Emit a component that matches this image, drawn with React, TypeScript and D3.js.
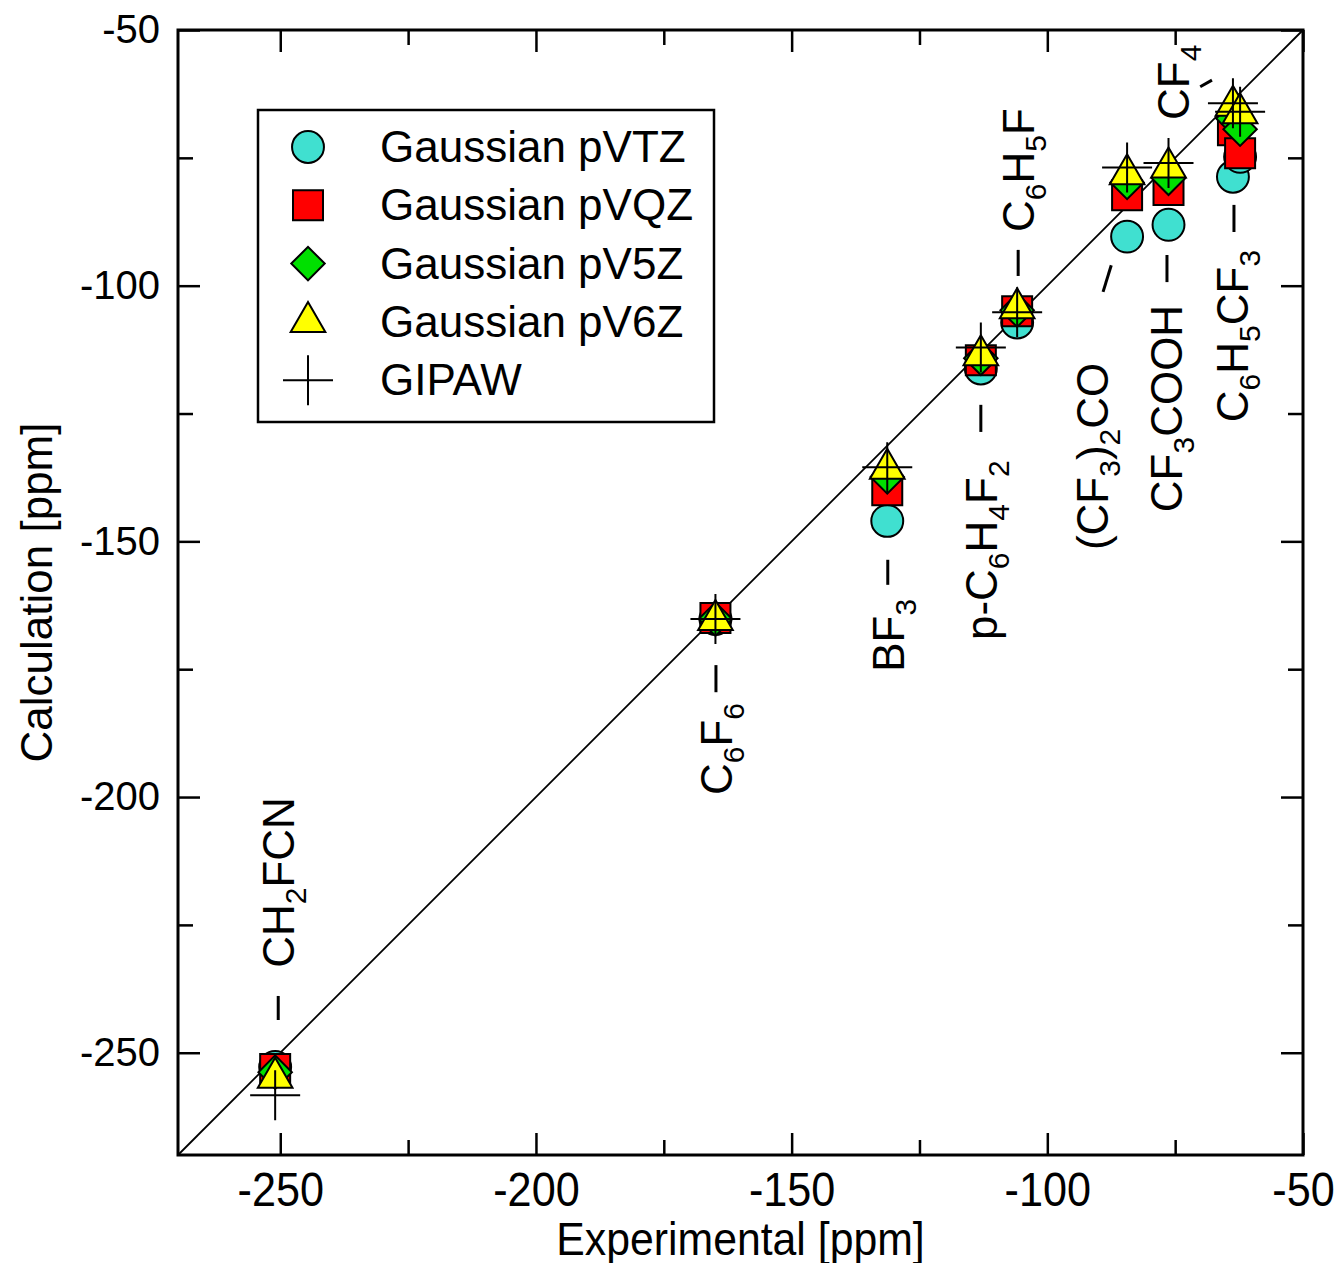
import { useEffect, useMemo, useRef } from "react";
import * as d3 from "d3";

const WIDTH = 1339;
const HEIGHT = 1263;
const MARGIN = { top: 30, right: 36, bottom: 108, left: 178 };
const FONT = "'Liberation Sans', Arial, Helvetica, sans-serif";

// 19F shifts [ppm]
const compounds = ["CH2FCN", "C6F6", "BF3", "p-C6H4F2", "C6H5F", "(CF3)2CO", "CF3COOH", "C6H5CF3", "CF4"];
const experimental = [-251.0, -164.9, -131.3, -113.0, -105.9, -84.4, -76.3, -63.7, -62.3];
const pVTZ = [-252.8, -165.2, -146.0, -116.2, -107.2, -90.4, -88.1, -78.7, -74.8];
const pVQZ = [-253.2, -165.0, -140.0, -114.6, -105.0, -82.3, -81.3, -69.6, -74.1];
const pV5Z = [-253.8, -165.2, -137.4, -114.2, -104.8, -79.8, -79.0, -67.3, -69.4];
const pV6Z = [-254.9, -165.4, -135.8, -113.6, -104.4, -78.2, -76.9, -64.8, -66.3];
const GIPAW = [-258.3, -165.2, -135.5, -112.1, -105.2, -76.9, -76.0, -64.3, -66.0];

const majorTicks = [-250, -200, -150, -100, -50];
const minorTicks = [-225, -175, -125, -75];
const legendNames = ["Gaussian pVTZ", "Gaussian pVQZ", "Gaussian pV5Z", "Gaussian pV6Z", "GIPAW"];

// label text pieces: [text, isSubscript]
const labelParts: [string, boolean][][] = [
  [["CH", false], ["2", true], ["FCN", false]],
  [["C", false], ["6", true], ["F", false], ["6", true]],
  [["BF", false], ["3", true]],
  [["p-C", false], ["6", true], ["H", false], ["4", true], ["F", false], ["2", true]],
  [["C", false], ["6", true], ["H", false], ["5", true], ["F", false]],
  [["(CF", false], ["3", true], [")", false], ["2", true], ["CO", false]],
  [["CF", false], ["3", true], ["COOH", false]],
  [["C", false], ["6", true], ["H", false], ["5", true], ["CF", false], ["3", true]],
  [["CF", false], ["4", true]],
];
// label anchor (column centre x, lower end y) in data units
const labelX = [-250.4, -164.8, -131.2, -112.9, -105.7, -91.3, -76.8, -63.9, -75.4];
const labelY = [-233.4, -199.6, -175.5, -169.3, -89.5, -151.7, -144.3, -126.7, -67.6];
// leader dashes in data units
const dashX1 = [-250.4, -164.8, -131.2, -113.0, -105.7, -89.1, -76.6, -63.5, -70.1];
const dashY1 = [-238.9, -174.2, -153.6, -123.3, -93.0, -101.2, -94.0, -84.2, -61.1];
const dashX2 = [-250.4, -164.8, -131.2, -113.0, -105.7, -87.5, -76.6, -63.5, -67.8];
const dashY2 = [-243.6, -179.5, -158.5, -128.6, -98.1, -96.0, -99.3, -89.5, -59.8];

const COLORS = { circle: "#40e0d0", square: "#ff0000", diamond: "#00e000", triangle: "#ffff00" };

const circlePath = d3.symbol().type(d3.symbolCircle).size(800)() as string;
const squarePath = d3.symbol().type(d3.symbolSquare).size(900)() as string;
const diamondPath = d3.symbol().type(d3.symbolSquare).size(560)() as string;
const trianglePath = d3.symbol().type(d3.symbolTriangle).size(520)() as string;
const PLUS = 25;
const plusPath = `M${-PLUS},0H${PLUS}M0,${-PLUS}V${PLUS}`;

const Marker = ({ kind, x, y }: { kind: string; x: number; y: number }) => {
  if (kind === "plus") {
    return <path d={plusPath} transform={`translate(${x},${y})`} stroke="#000" strokeWidth={2} fill="none" />;
  }
  const d = kind === "circle" ? circlePath : kind === "square" ? squarePath : kind === "diamond" ? diamondPath : trianglePath;
  const rot = kind === "diamond" ? " rotate(45)" : "";
  return (
    <path
      d={d}
      transform={`translate(${x},${y})${rot}`}
      fill={(COLORS as any)[kind]}
      stroke="#000"
      strokeWidth={2}
    />
  );
};

const series = [
  { kind: "circle", values: pVTZ },
  { kind: "square", values: pVQZ },
  { kind: "diamond", values: pV5Z },
  { kind: "triangle", values: pV6Z },
  { kind: "plus", values: GIPAW },
];

const App = () => {
  const axesRef = useRef<SVGGElement>(null);
  const boundsWidth = WIDTH - MARGIN.left - MARGIN.right;
  const boundsHeight = HEIGHT - MARGIN.top - MARGIN.bottom;

  const xScale = useMemo(() => d3.scaleLinear().domain([-270, -50]).range([0, boundsWidth]), [boundsWidth]);
  const yScale = useMemo(() => d3.scaleLinear().domain([-270, -50]).range([boundsHeight, 0]), [boundsHeight]);

  // axes drawn by d3, ticks pointing inwards on all four sides
  useEffect(() => {
    const svgElement = d3.select(axesRef.current);
    svgElement.selectAll("*").remove();
    const fmt = (d: any) => String(d);
    const blank = () => "";

    const addAxis = (axis: any, transform: string, labelled: boolean) => {
      const g = svgElement.append("g").attr("transform", transform).call(axis);
      g.select(".domain").remove();
      g.selectAll("line").attr("stroke", "#000").attr("stroke-width", 2.5);
      g.attr("font-family", FONT);
      if (!labelled) g.selectAll("text").remove();
      return g;
    };

    // bottom
    const xb = addAxis(
      d3.axisBottom(xScale).tickValues(majorTicks).tickSizeInner(-22).tickSizeOuter(0).tickPadding(17).tickFormat(fmt),
      `translate(0,${boundsHeight})`,
      true
    );
    xb.attr("font-size", 48);
    xb.selectAll("text").attr("fill", "#000").attr("transform", "scale(0.9,1)");
    addAxis(d3.axisBottom(xScale).tickValues(minorTicks).tickSizeInner(-15).tickSizeOuter(0).tickFormat(blank), `translate(0,${boundsHeight})`, false);
    // top
    addAxis(d3.axisTop(xScale).tickValues(majorTicks).tickSizeInner(-22).tickSizeOuter(0).tickFormat(blank), "translate(0,0)", false);
    addAxis(d3.axisTop(xScale).tickValues(minorTicks).tickSizeInner(-15).tickSizeOuter(0).tickFormat(blank), "translate(0,0)", false);
    // left
    const yl = addAxis(
      d3.axisLeft(yScale).tickValues(majorTicks).tickSizeInner(-22).tickSizeOuter(0).tickPadding(18).tickFormat(fmt),
      "translate(0,0)",
      true
    );
    yl.attr("font-size", 40);
    yl.selectAll("text").attr("fill", "#000");
    addAxis(d3.axisLeft(yScale).tickValues(minorTicks).tickSizeInner(-15).tickSizeOuter(0).tickFormat(blank), "translate(0,0)", false);
    // right
    addAxis(d3.axisRight(yScale).tickValues(majorTicks).tickSizeInner(-22).tickSizeOuter(0).tickFormat(blank), `translate(${boundsWidth},0)`, false);
    addAxis(d3.axisRight(yScale).tickValues(minorTicks).tickSizeInner(-15).tickSizeOuter(0).tickFormat(blank), `translate(${boundsWidth},0)`, false);
  }, [xScale, yScale, boundsWidth, boundsHeight]);

  const LABEL_FS = 44;
  const SUB_FS = 30;
  const SUB_SHIFT = 12;

  const labels = compounds.map((name, i) => {
    const cx = xScale(labelX[i]) + LABEL_FS * 0.36;
    const by = yScale(labelY[i]);
    let shifted = false;
    return (
      <text
        key={name}
        transform={`translate(${cx},${by}) rotate(-90)`}
        fontFamily={FONT}
        fontSize={LABEL_FS}
        fill="#000"
      >
        {labelParts[i].map(([t, sub], j) => {
          let dy = 0;
          if (sub && !shifted) { dy = SUB_SHIFT; shifted = true; }
          else if (!sub && shifted) { dy = -SUB_SHIFT; shifted = false; }
          return (
            <tspan key={j} dy={dy} fontSize={sub ? SUB_FS : LABEL_FS}>{t}</tspan>
          );
        })}
      </text>
    );
  });

  const dashes = compounds.map((name, i) => (
    <line
      key={name}
      x1={xScale(dashX1[i])}
      y1={yScale(dashY1[i])}
      x2={xScale(dashX2[i])}
      y2={yScale(dashY2[i])}
      stroke="#000"
      strokeWidth={3}
    />
  ));

  const points = series.map((s) => (
    <g key={s.kind}>
      {experimental.map((ex, i) => (
        <Marker key={i} kind={s.kind} x={xScale(ex)} y={yScale(s.values[i])} />
      ))}
    </g>
  ));

  // legend box (plot coordinates)
  const legend = { x: 80, y: 80, w: 456, h: 312, rowStart: 37, rowStep: 58.3, symX: 50, textX: 122 };

  return (
    <div style={{ position: "absolute", left: 0, top: 0 }}>
      <svg width={WIDTH} height={HEIGHT} style={{ display: "block", background: "#fff" }}>
        <g transform={`translate(${[MARGIN.left, MARGIN.top].join(",")})`}>
          <line
            x1={xScale(-270)}
            y1={yScale(-270)}
            x2={xScale(-50)}
            y2={yScale(-50)}
            stroke="#000"
            strokeWidth={1.8}
          />
          {points}
          {dashes}
          {labels}

          <g transform={`translate(${legend.x},${legend.y})`}>
            <rect width={legend.w} height={legend.h} fill="#fff" stroke="#000" strokeWidth={2.5} />
            {legendNames.map((n, i) => {
              const cy = legend.rowStart + i * legend.rowStep;
              return (
                <g key={n}>
                  <Marker kind={series[i].kind} x={legend.symX} y={cy} />
                  <text x={legend.textX} y={cy + 15} fontFamily={FONT} fontSize={44} fill="#000">
                    {n}
                  </text>
                </g>
              );
            })}
          </g>

          <g ref={axesRef} />
          <rect width={boundsWidth} height={boundsHeight} fill="none" stroke="#000" strokeWidth={3} />
        </g>

        <text
          transform={`translate(${MARGIN.left + boundsWidth / 2},${HEIGHT - 8}) scale(0.93,1)`}
          textAnchor="middle"
          fontFamily={FONT}
          fontSize={46}
          fill="#000"
        >
          Experimental [ppm]
        </text>
        <text
          transform={`translate(52,${MARGIN.top + boundsHeight / 2}) rotate(-90)`}
          textAnchor="middle"
          fontFamily={FONT}
          fontSize={44}
          fill="#000"
        >
          Calculation [ppm]
        </text>
      </svg>
    </div>
  );
};

export default App;
